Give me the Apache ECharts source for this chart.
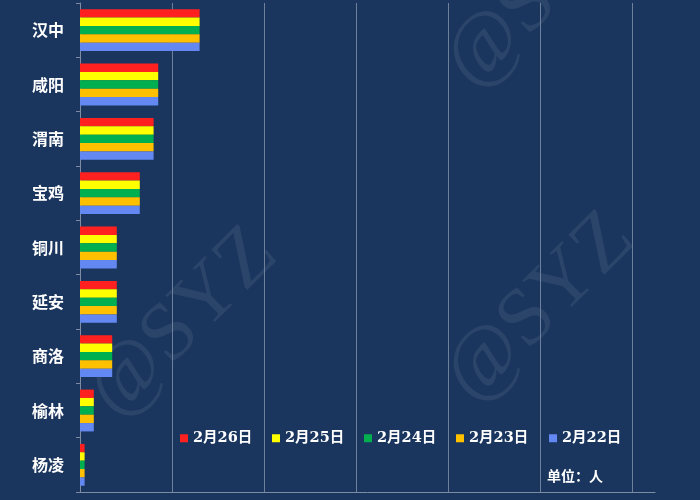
<!DOCTYPE html>
<html>
<head>
<meta charset="utf-8">
<script src="https://cdn.jsdelivr.net/npm/echarts@6/dist/echarts.min.js"></script>
<style>html,body{margin:0;padding:0;background:#1b365e;}#c{width:700px;height:500px;}</style>
</head>
<body>
<div id="c"></div>
<script>
// categories bottom-to-top (ECharts category y axis starts at bottom)
var cities = ['杨凌', '榆林', '商洛', '延安', '铜川', '宝鸡', '渭南', '咸阳', '汉中'];
var d0226 = [1, 3, 7, 8, 8, 13, 16, 17, 26];
var d0225 = [1, 3, 7, 8, 8, 13, 16, 17, 26];
var d0224 = [1, 3, 7, 8, 8, 13, 16, 17, 26];
var d0223 = [1, 3, 7, 8, 8, 13, 16, 17, 26];
var d0222 = [1, 3, 7, 8, 8, 13, 16, 17, 26];
var seriesNames = ['2月26日', '2月25日', '2月24日', '2月23日', '2月22日'];
var seriesData = [d0226, d0225, d0224, d0223, d0222];
var seriesColors = ['#ff2020', '#ffff00', '#00b050', '#ffc000', '#6388f2'];
var unitText = '单位：人';
var watermark = '@SYZ';
var legendLefts = [180, 272, 364, 456, 549];

var chart = echarts.init(document.getElementById('c'));
var series = seriesNames.map(function (n, i) {
  return {
    name: n, type: 'bar', data: seriesData[i],
    itemStyle: { color: seriesColors[i] },
    barGap: '0%', barCategoryGap: '23%'
  };
});
var legends = seriesNames.map(function (n, i) {
  return {
    data: [n], left: legendLefts[i], top: 431, padding: 0, itemWidth: 8, itemHeight: 8,
    icon: 'rect',
    textStyle: { color: '#ffffff', fontSize: 14.5, fontWeight: 'bold', fontFamily: '"DejaVu Serif", "Noto Sans CJK SC", serif' }
  };
});
var wmStyle = { fill: 'rgba(255,255,255,0.07)', font: '82px "Liberation Serif"', align: 'center', verticalAlign: 'middle' };
chart.setOption({
  backgroundColor: '#1b365e',
  animation: false,
  grid: { left: 80, right: 45, top: 3, bottom: 8 },
  xAxis: {
    type: 'value', min: 0, max: 125, interval: 20,
    axisLabel: { show: false }, axisTick: { show: false },
    axisLine: { show: true, lineStyle: { color: '#7d8ca3', width: 1 } },
    splitLine: { show: true, showMinLine: false, showMaxLine: false, lineStyle: { color: '#6f809b', width: 1 } }
  },
  yAxis: {
    type: 'category', data: cities,
    axisLine: { show: true, lineStyle: { color: '#7d8ca3', width: 1 } },
    axisTick: { show: true, length: 4, lineStyle: { color: '#7d8ca3' } },
    axisLabel: { color: '#ffffff', fontSize: 16, fontWeight: 'bold', margin: 16, fontFamily: '"Noto Sans CJK SC", sans-serif' }
  },
  legend: legends,
  graphic: [
    { type: 'text', x: 183, y: 323, rotation: 0.78, silent: true, z: 0, style: Object.assign({ text: watermark }, wmStyle) },
    { type: 'text', x: 540, y: 308, rotation: 0.78, silent: true, z: 0, style: Object.assign({ text: watermark }, wmStyle) },
    { type: 'text', x: 540, y: -6, rotation: 0.78, silent: true, z: 0, style: Object.assign({ text: watermark }, wmStyle) },
    { type: 'text', left: 547, top: 469, z: 10, style: { text: unitText, fill: '#ffffff', font: 'bold 14px "Noto Sans CJK SC", sans-serif' } }
  ],
  series: series
});
</script>
</body>
</html>
